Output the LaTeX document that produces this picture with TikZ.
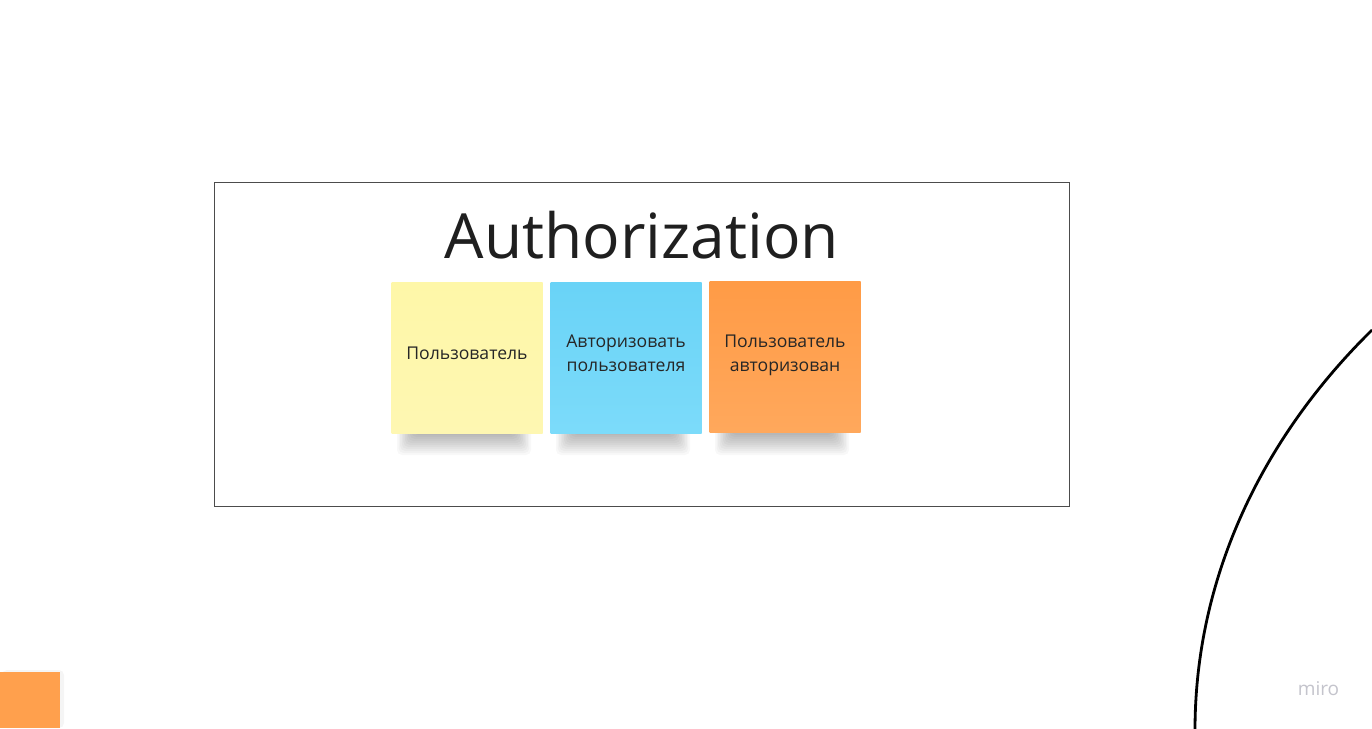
\documentclass[tikz,border=0pt]{standalone}
\usepackage{fontspec}
\setmainfont{Open Sans}
\definecolor{yelT}{RGB}{254,247,168}
\definecolor{yelB}{RGB}{254,247,178}
\definecolor{bluT}{RGB}{105,211,247}
\definecolor{bluB}{RGB}{124,219,250}
\definecolor{orT}{RGB}{255,155,70}
\definecolor{orB}{RGB}{255,168,92}
\definecolor{orC}{RGB}{255,160,77}
\definecolor{logoc}{RGB}{196,196,204}
\begin{document}
\begin{tikzpicture}[x=1pt,y=-1pt,
  note/.style={minimum width=151pt,minimum height=151pt,inner sep=0pt},
  notetext/.style={align=center,inner sep=0pt,font=\fontsize{17.6}{24}\selectfont,text=black!85},
  shadowlayer/.style={fill=black,opacity=0.028,draw=none,rounded corners=5pt}]
\useasboundingbox (0,0) rectangle (1372,728);
\fill[white] (0,0) rectangle (1372,728);
% frame
\draw[black!70,line width=0.8pt] (214.5,182.5) rectangle (1069.5,506.5);
\node[font=\fontsize{62.3}{70}\selectfont,text=black!88,anchor=base] (title) at (642,258) {Authorization};
% shadows
\foreach \cx in {467,626,785}{
  \foreach \k in {0,...,10}{
    \fill[shadowlayer] (\cx-70+\k*1.6,428) rectangle (\cx+64-\k*1.6,455-\k*2);
  }
}
% notes
\node[note,top color=yelT,bottom color=yelB] (n1) at (467,358) {};
\node[note,top color=bluT,bottom color=bluB] (n2) at (626,357.5) {};
\node[note,top color=orT,bottom color=orB] (n3) at (785,357) {};
\node[notetext] (t1) at (467,353) {Пользователь};
\node[notetext] (t2) at (626,353.5) {Авторизовать\\пользователя};
\node[notetext] (t3) at (785,355) {Пользователь\\авторизован};
% bottom-left note (cropped)
\fill[shadowlayer,opacity=0.04] (2,670) rectangle (64,728);
\fill[orC] (0,672) rectangle (60,728);
% curve
\draw[black,line width=2.8pt] (1372,330) .. controls (1260,440) and (1195,580) .. (1195,730);
% logo
\node[font=\fontsize{19}{22}\selectfont,text=logoc] (logo) at (1318.5,689) {miro};
\end{tikzpicture}
\end{document}
